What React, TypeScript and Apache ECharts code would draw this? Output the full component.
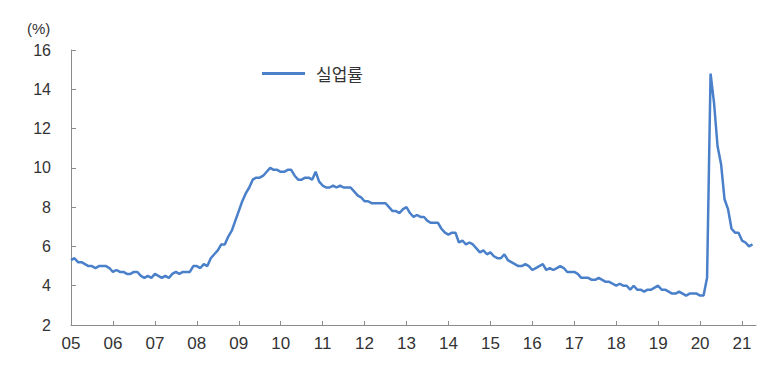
import React, { useEffect, useRef } from "react";
import * as echarts from "echarts";

const startYear = 2005;
const endYear = 2021;
const endMonth = 5; // axis extends to May 2021

const rate2005 = [5.3, 5.4, 5.2, 5.2, 5.1, 5.0, 5.0, 4.9, 5.0, 5.0, 5.0, 4.9];
const rate2006 = [4.7, 4.8, 4.7, 4.7, 4.6, 4.6, 4.7, 4.7, 4.5, 4.4, 4.5, 4.4];
const rate2007 = [4.6, 4.5, 4.4, 4.5, 4.4, 4.6, 4.7, 4.6, 4.7, 4.7, 4.7, 5.0];
const rate2008 = [5.0, 4.9, 5.1, 5.0, 5.4, 5.6, 5.8, 6.1, 6.1, 6.5, 6.8, 7.3];
const rate2009 = [7.8, 8.3, 8.7, 9.0, 9.4, 9.5, 9.5, 9.6, 9.8, 10.0, 9.9, 9.9];
const rate2010 = [9.8, 9.8, 9.9, 9.9, 9.6, 9.4, 9.4, 9.5, 9.5, 9.4, 9.8, 9.3];
const rate2011 = [9.1, 9.0, 9.0, 9.1, 9.0, 9.1, 9.0, 9.0, 9.0, 8.8, 8.6, 8.5];
const rate2012 = [8.3, 8.3, 8.2, 8.2, 8.2, 8.2, 8.2, 8.0, 7.8, 7.8, 7.7, 7.9];
const rate2013 = [8.0, 7.7, 7.5, 7.6, 7.5, 7.5, 7.3, 7.2, 7.2, 7.2, 6.9, 6.7];
const rate2014 = [6.6, 6.7, 6.7, 6.2, 6.3, 6.1, 6.2, 6.1, 5.9, 5.7, 5.8, 5.6];
const rate2015 = [5.7, 5.5, 5.4, 5.4, 5.6, 5.3, 5.2, 5.1, 5.0, 5.0, 5.1, 5.0];
const rate2016 = [4.8, 4.9, 5.0, 5.1, 4.8, 4.9, 4.8, 4.9, 5.0, 4.9, 4.7, 4.7];
const rate2017 = [4.7, 4.6, 4.4, 4.4, 4.4, 4.3, 4.3, 4.4, 4.3, 4.2, 4.2, 4.1];
const rate2018 = [4.0, 4.1, 4.0, 4.0, 3.8, 4.0, 3.8, 3.8, 3.7, 3.8, 3.8, 3.9];
const rate2019 = [4.0, 3.8, 3.8, 3.7, 3.6, 3.6, 3.7, 3.6, 3.5, 3.6, 3.6, 3.6];
const rate2020 = [3.5, 3.5, 4.4, 14.8, 13.3, 11.1, 10.2, 8.4, 7.9, 6.9, 6.7, 6.7];
const rate2021 = [6.3, 6.2, 6.0, 6.1];

const unemployment = [
  ...rate2005, ...rate2006, ...rate2007, ...rate2008, ...rate2009, ...rate2010,
  ...rate2011, ...rate2012, ...rate2013, ...rate2014, ...rate2015, ...rate2016,
  ...rate2017, ...rate2018, ...rate2019, ...rate2020, ...rate2021,
];

const categories: string[] = [];
for (let y = startYear; y <= endYear; y++) {
  const last = y === endYear ? endMonth : 12;
  for (let m = 1; m <= last; m++) {
    categories.push(`${y}-${String(m).padStart(2, "0")}`);
  }
}

const seriesName = "실업률";
const unitLabel = "(%)";

export default function App() {
  const ref = useRef<HTMLDivElement>(null);
  useEffect(() => {
    if (!ref.current) return;
    const chart = echarts.init(ref.current, undefined, { renderer: "svg" });
    const axisColor = "#8c8c8c";
    const textColor = "#333";
    const font = "'Liberation Sans', Arial, sans-serif";
    chart.setOption({
      animation: false,
      backgroundColor: "#fff",
      grid: { left: 71, right: 24, top: 50, bottom: 46 },
      legend: {
        data: [{ name: seriesName, icon: "rect" }],
        left: 257,
        top: 60,
        itemWidth: 43,
        itemHeight: 3,
        itemGap: 6,
        textStyle: {
          fontSize: 17,
          color: textColor,
          fontFamily: "'Noto Sans CJK KR', sans-serif",
          padding: [0, 0, 0, 6],
        },
      },
      graphic: [
        {
          type: "text",
          left: 27,
          top: 21,
          style: { text: unitLabel, fontSize: 15, fill: textColor, fontFamily: font },
        },
      ],
      xAxis: {
        type: "category",
        data: categories,
        boundaryGap: false,
        axisLine: { lineStyle: { color: axisColor, width: 1 } },
        axisTick: {
          inside: true,
          length: 4,
          interval: (i: number) => i % 12 === 0,
          lineStyle: { color: axisColor },
        },
        axisLabel: {
          interval: (i: number) => i % 12 === 0,
          formatter: (v: string) => v.slice(2, 4),
          fontSize: 17,
          color: textColor,
          fontFamily: font,
          margin: 10,
        },
        splitLine: { show: false },
      },
      yAxis: {
        type: "value",
        min: 2,
        max: 16,
        interval: 2,
        axisLine: { show: true, lineStyle: { color: axisColor, width: 1 } },
        axisTick: { show: true, inside: true, length: 5, lineStyle: { color: axisColor } },
        axisLabel: { fontSize: 16, color: textColor, fontFamily: font, margin: 20 },
        splitLine: { show: false },
      },
      series: [
        {
          name: seriesName,
          type: "line",
          data: unemployment,
          showSymbol: false,
          symbol: "none",
          lineStyle: { color: "#4a7fca", width: 2.5 },
          itemStyle: { color: "#4a7fca" },
        },
      ],
    });
    return () => chart.dispose();
  }, []);
  return (
    <div
      ref={ref}
      style={{ position: "fixed", left: 0, top: 0, width: 780, height: 371, background: "#fff" }}
    />
  );
}
